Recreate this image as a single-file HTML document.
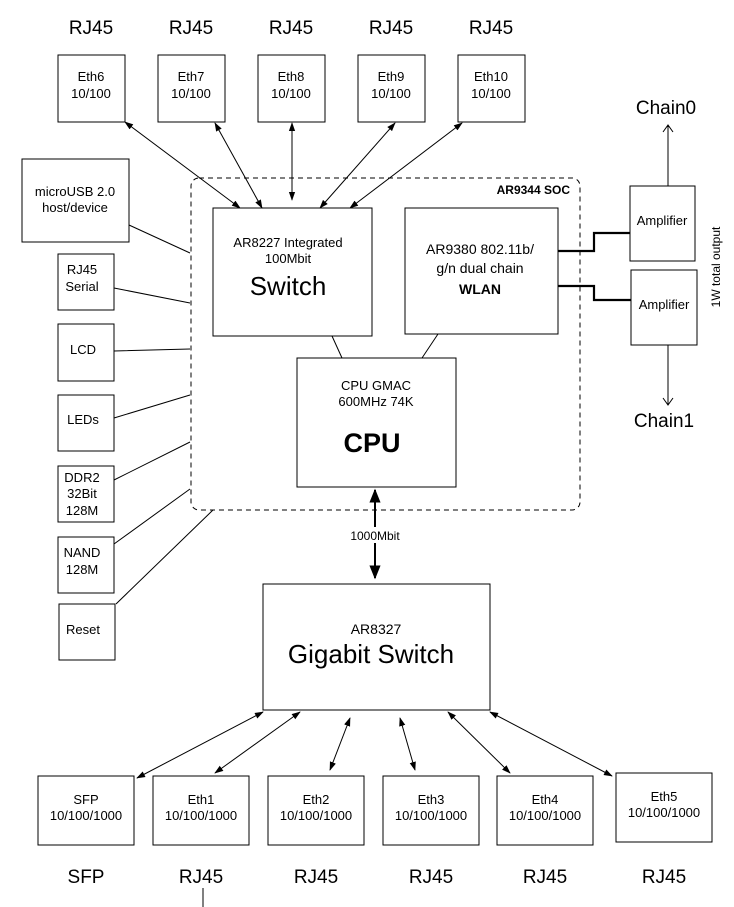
<!DOCTYPE html>
<html><head><style>body{margin:0;background:#fff}svg{display:block}text{font-family:"Liberation Sans",Arial,sans-serif;fill:#000}</style></head>
<body>
<svg width="734" height="907" viewBox="0 0 734 907" xmlns="http://www.w3.org/2000/svg">
<defs>
<marker id="a" viewBox="0 0 10 10" refX="9" refY="5" markerWidth="9" markerHeight="9" markerUnits="userSpaceOnUse" orient="auto-start-reverse"><path d="M0,1.5 L10,5 L0,8.5 z" fill="#000"/></marker>
<marker id="b" viewBox="0 0 10 10" refX="9" refY="5" markerWidth="7" markerHeight="7" orient="auto-start-reverse"><path d="M0,1 L10,5 L0,9 z" fill="#000"/></marker>
</defs>
<g stroke="#000" stroke-width="1" fill="none">
<rect x="191" y="178" width="389" height="332" rx="8" stroke-dasharray="5,4"/>
<rect x="58" y="55" width="67" height="67"/><rect x="158" y="55" width="67" height="67"/><rect x="258" y="55" width="67" height="67"/><rect x="358" y="55" width="67" height="67"/><rect x="458" y="55" width="67" height="67"/>
<rect x="213" y="208" width="159" height="128"/><rect x="405" y="208" width="153" height="126"/><rect x="297" y="358" width="159" height="129"/>
<rect x="22" y="159" width="107" height="83"/><rect x="58" y="254" width="56" height="56"/><rect x="58" y="324" width="56" height="57"/><rect x="58" y="395" width="56" height="56"/><rect x="58" y="466" width="56" height="56"/><rect x="58" y="537" width="56" height="56"/><rect x="59" y="604" width="56" height="56"/>
<rect x="630" y="186" width="65" height="75"/><rect x="631" y="270" width="66" height="75"/>
<rect x="263" y="584" width="227" height="126"/>
<rect x="38" y="776" width="96" height="69"/><rect x="153" y="776" width="96" height="69"/><rect x="268" y="776" width="96" height="69"/><rect x="383" y="776" width="96" height="69"/><rect x="497" y="776" width="96" height="69"/><rect x="616" y="773" width="96" height="69"/>
<path d="M129,225L190,253M114,288L190,303M114,351L190,349M114,418L190,395M114,480L190,442M114,544L190,489M116,604L213,510M332,336L342,358M438,334L422,358M203,888L203,907"/>
<path d="M558,251H594V233H630M558,286H594V300H631" stroke-width="2.2"/>
<path d="M668,186V125M663,132L668,125L673,132M668,345V405M663,398L668,405L673,398"/>
<g marker-start="url(#a)" marker-end="url(#a)">
<path d="M125,122L240,208"/><path d="M215,123L262,208"/><path d="M292,123L292,200"/><path d="M395,123L320,208"/><path d="M462,123L350,208"/>
<path d="M263,712L137,778"/><path d="M300,712L215,773"/><path d="M350,718L330,770"/><path d="M400,718L415,770"/><path d="M448,712L510,773"/><path d="M490,712L612,776"/>
</g>
<path d="M375,490V578" stroke-width="2" marker-start="url(#b)" marker-end="url(#b)"/>
</g>
<rect x="345" y="527" width="60" height="16" fill="#fff"/>
<g font-size="19" text-anchor="middle">
<text x="91" y="34">RJ45</text><text x="191" y="34">RJ45</text><text x="291" y="34">RJ45</text><text x="391" y="34">RJ45</text><text x="491" y="34">RJ45</text>
<text x="86" y="883">SFP</text><text x="201" y="883">RJ45</text><text x="316" y="883">RJ45</text><text x="431" y="883">RJ45</text><text x="545" y="883">RJ45</text><text x="664" y="883">RJ45</text>
<text x="666" y="114">Chain0</text><text x="664" y="427">Chain1</text>
</g>
<g font-size="13" text-anchor="middle">
<text x="91" y="81">Eth6</text><text x="91" y="98">10/100</text>
<text x="191" y="81">Eth7</text><text x="191" y="98">10/100</text>
<text x="291" y="81">Eth8</text><text x="291" y="98">10/100</text>
<text x="391" y="81">Eth9</text><text x="391" y="98">10/100</text>
<text x="491" y="81">Eth10</text><text x="491" y="98">10/100</text>
<text x="75" y="196">microUSB 2.0</text><text x="75" y="212">host/device</text>
<text x="82" y="274">RJ45</text><text x="82" y="291">Serial</text>
<text x="83" y="354">LCD</text><text x="83" y="424">LEDs</text>
<text x="82" y="482">DDR2</text><text x="82" y="498">32Bit</text><text x="82" y="515">128M</text>
<text x="82" y="557">NAND</text><text x="82" y="574">128M</text>
<text x="83" y="634">Reset</text>
<text x="662" y="225">Amplifier</text><text x="664" y="309">Amplifier</text>
<text x="288" y="247">AR8227 Integrated</text><text x="288" y="263">100Mbit</text>
<text x="480" y="254" font-size="14">AR9380 802.11b/</text><text x="480" y="273" font-size="14">g/n dual chain</text>
<text x="480" y="294" font-size="14" font-weight="bold">WLAN</text>
<text x="376" y="390">CPU GMAC</text><text x="376" y="406">600MHz 74K</text>
<text x="375" y="540" font-size="12">1000Mbit</text>
<text x="376" y="634" font-size="14">AR8327</text>
<text x="86" y="804">SFP</text><text x="86" y="820">10/100/1000</text>
<text x="201" y="804">Eth1</text><text x="201" y="820">10/100/1000</text>
<text x="316" y="804">Eth2</text><text x="316" y="820">10/100/1000</text>
<text x="431" y="804">Eth3</text><text x="431" y="820">10/100/1000</text>
<text x="545" y="804">Eth4</text><text x="545" y="820">10/100/1000</text>
<text x="664" y="801">Eth5</text><text x="664" y="817">10/100/1000</text>
</g>
<text x="288" y="295" font-size="26" text-anchor="middle">Switch</text>
<text x="372" y="452" font-size="27" font-weight="bold" text-anchor="middle">CPU</text>
<text x="371" y="663" font-size="26" text-anchor="middle">Gigabit Switch</text>
<text x="570" y="194" font-size="12" font-weight="bold" text-anchor="end">AR9344 SOC</text>
<text transform="translate(720,267) rotate(-90)" font-size="12" text-anchor="middle">1W total output</text>
</svg>
</body></html>
